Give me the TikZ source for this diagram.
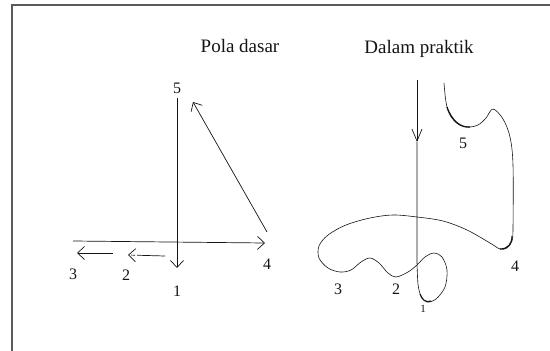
\documentclass[tikz,border=0pt]{standalone}
\usepackage{fontspec}
\setmainfont{Liberation Serif}
\usepackage{tikz}
\usetikzlibrary{arrows.meta, positioning, calc}
\definecolor{inkdark}{RGB}{20, 20, 20}
\definecolor{framegray}{RGB}{90, 90, 90}

\begin{document}
\begin{tikzpicture}[
  x=1pt, y=-1pt,
  title/.style={font=\fontsize{19}{19}\selectfont, text=inkdark, inner sep=0pt, anchor=base},
  digit/.style={font=\fontsize{16}{16}\selectfont, text=inkdark, inner sep=0pt},
  smalldigit/.style={font=\fontsize{11}{11}\selectfont, text=inkdark, inner sep=0pt},
  arrow/.style={-{Straight Barb[length=7pt, width=13pt]}, color=inkdark, line width=0.7pt},
  longarrow/.style={-{Straight Barb[length=12pt, width=10pt]}, color=inkdark, line width=0.7pt},
  stroke/.style={color=inkdark, line width=0.6pt},
]
  \useasboundingbox (0,0) rectangle (550,351);
  % Frame
  \draw[framegray, line width=1.3pt] (12,351) -- (12,5) -- (550,5);

  % Titles
  \node[title] (pola) at (240,52) {Pola dasar};
  \node[title] (praktik) at (419,53) {Dalam praktik};

  % Basic pattern points
  \coordinate (top) at (177,98);
  \coordinate (down) at (177,268);
  \coordinate (left) at (73,241);
  \coordinate (right) at (265,243);
  \coordinate (diagA) at (267,232);
  \coordinate (diagB) at (193,102);
  \coordinate (twoA) at (165,256);
  \coordinate (twoB) at (128,255);
  \coordinate (threeA) at (113,253);
  \coordinate (threeB) at (77,253);

  % Basic pattern labels
  \node[digit] (b5) at (177,88) {5};
  \node[digit] (b4) at (267,264) {4};
  \node[digit] (b3) at (73,274) {3};
  \node[digit] (b2) at (126,275) {2};
  \node[digit] (b1) at (177,291) {1};

  % Basic pattern arrows
  \draw[arrow] (top) -- (down);
  \draw[arrow] (left) -- (right);
  \draw[arrow] (diagA) -- (diagB);
  \draw[arrow, dash pattern=on 28pt off 2pt on 4pt off 2pt] (twoA) -- (twoB);
  \draw[arrow] (threeA) -- (threeB);

  % Practice labels
  \node[digit] (p5) at (463,143) {5};
  \node[digit] (p4) at (515,266) {4};
  \node[digit] (p3) at (338,289) {3};
  \node[digit] (p2) at (396,289) {2};
  \node[smalldigit] (p1) at (423,309) {1};

  % Practice stroke
  \coordinate (start) at (417,80);
  \coordinate (mid) at (417,142);
  \coordinate (finish) at (444,83);
  \draw[longarrow] (start) -- (mid);
  \draw[stroke] (mid) -- (417,217) -- (417,262)
    plot[smooth, tension=0.55] coordinates {
      (417,262) (418,284) (421,296) (427,302) (436,299) (445,287)
      (447,270) (442,257) (434,253) (425,257) (417,265) (408,272)
      (396,277) (388,273) (379,263) (370,258) (361,262) (351,270)
      (340,272) (328,268) (319,258) (319,246) (328,235) (346,225)
      (370,218) (393,215) (417,217) (443,221) (467,230) (490,243)
      (500,249) (507,248) (512,241) (513,228) (513,165) (510,137)
      (503,119) (493,109) (486,118) (478,125) (468,127) (458,124)
      (450,115) (446,102) (finish)};
  % Thicker parts of the stroke
  \draw[color=inkdark, line width=1.3pt] (447,107) .. controls (452,122) and (462,128) .. (470,127);
  \draw[color=inkdark, line width=1.2pt] (500,249) .. controls (508,249) and (512,244) .. (512,236);
  \draw[color=inkdark, line width=1.1pt] (420,294) .. controls (422,300) and (426,303) .. (431,301);
\end{tikzpicture}
\end{document}
